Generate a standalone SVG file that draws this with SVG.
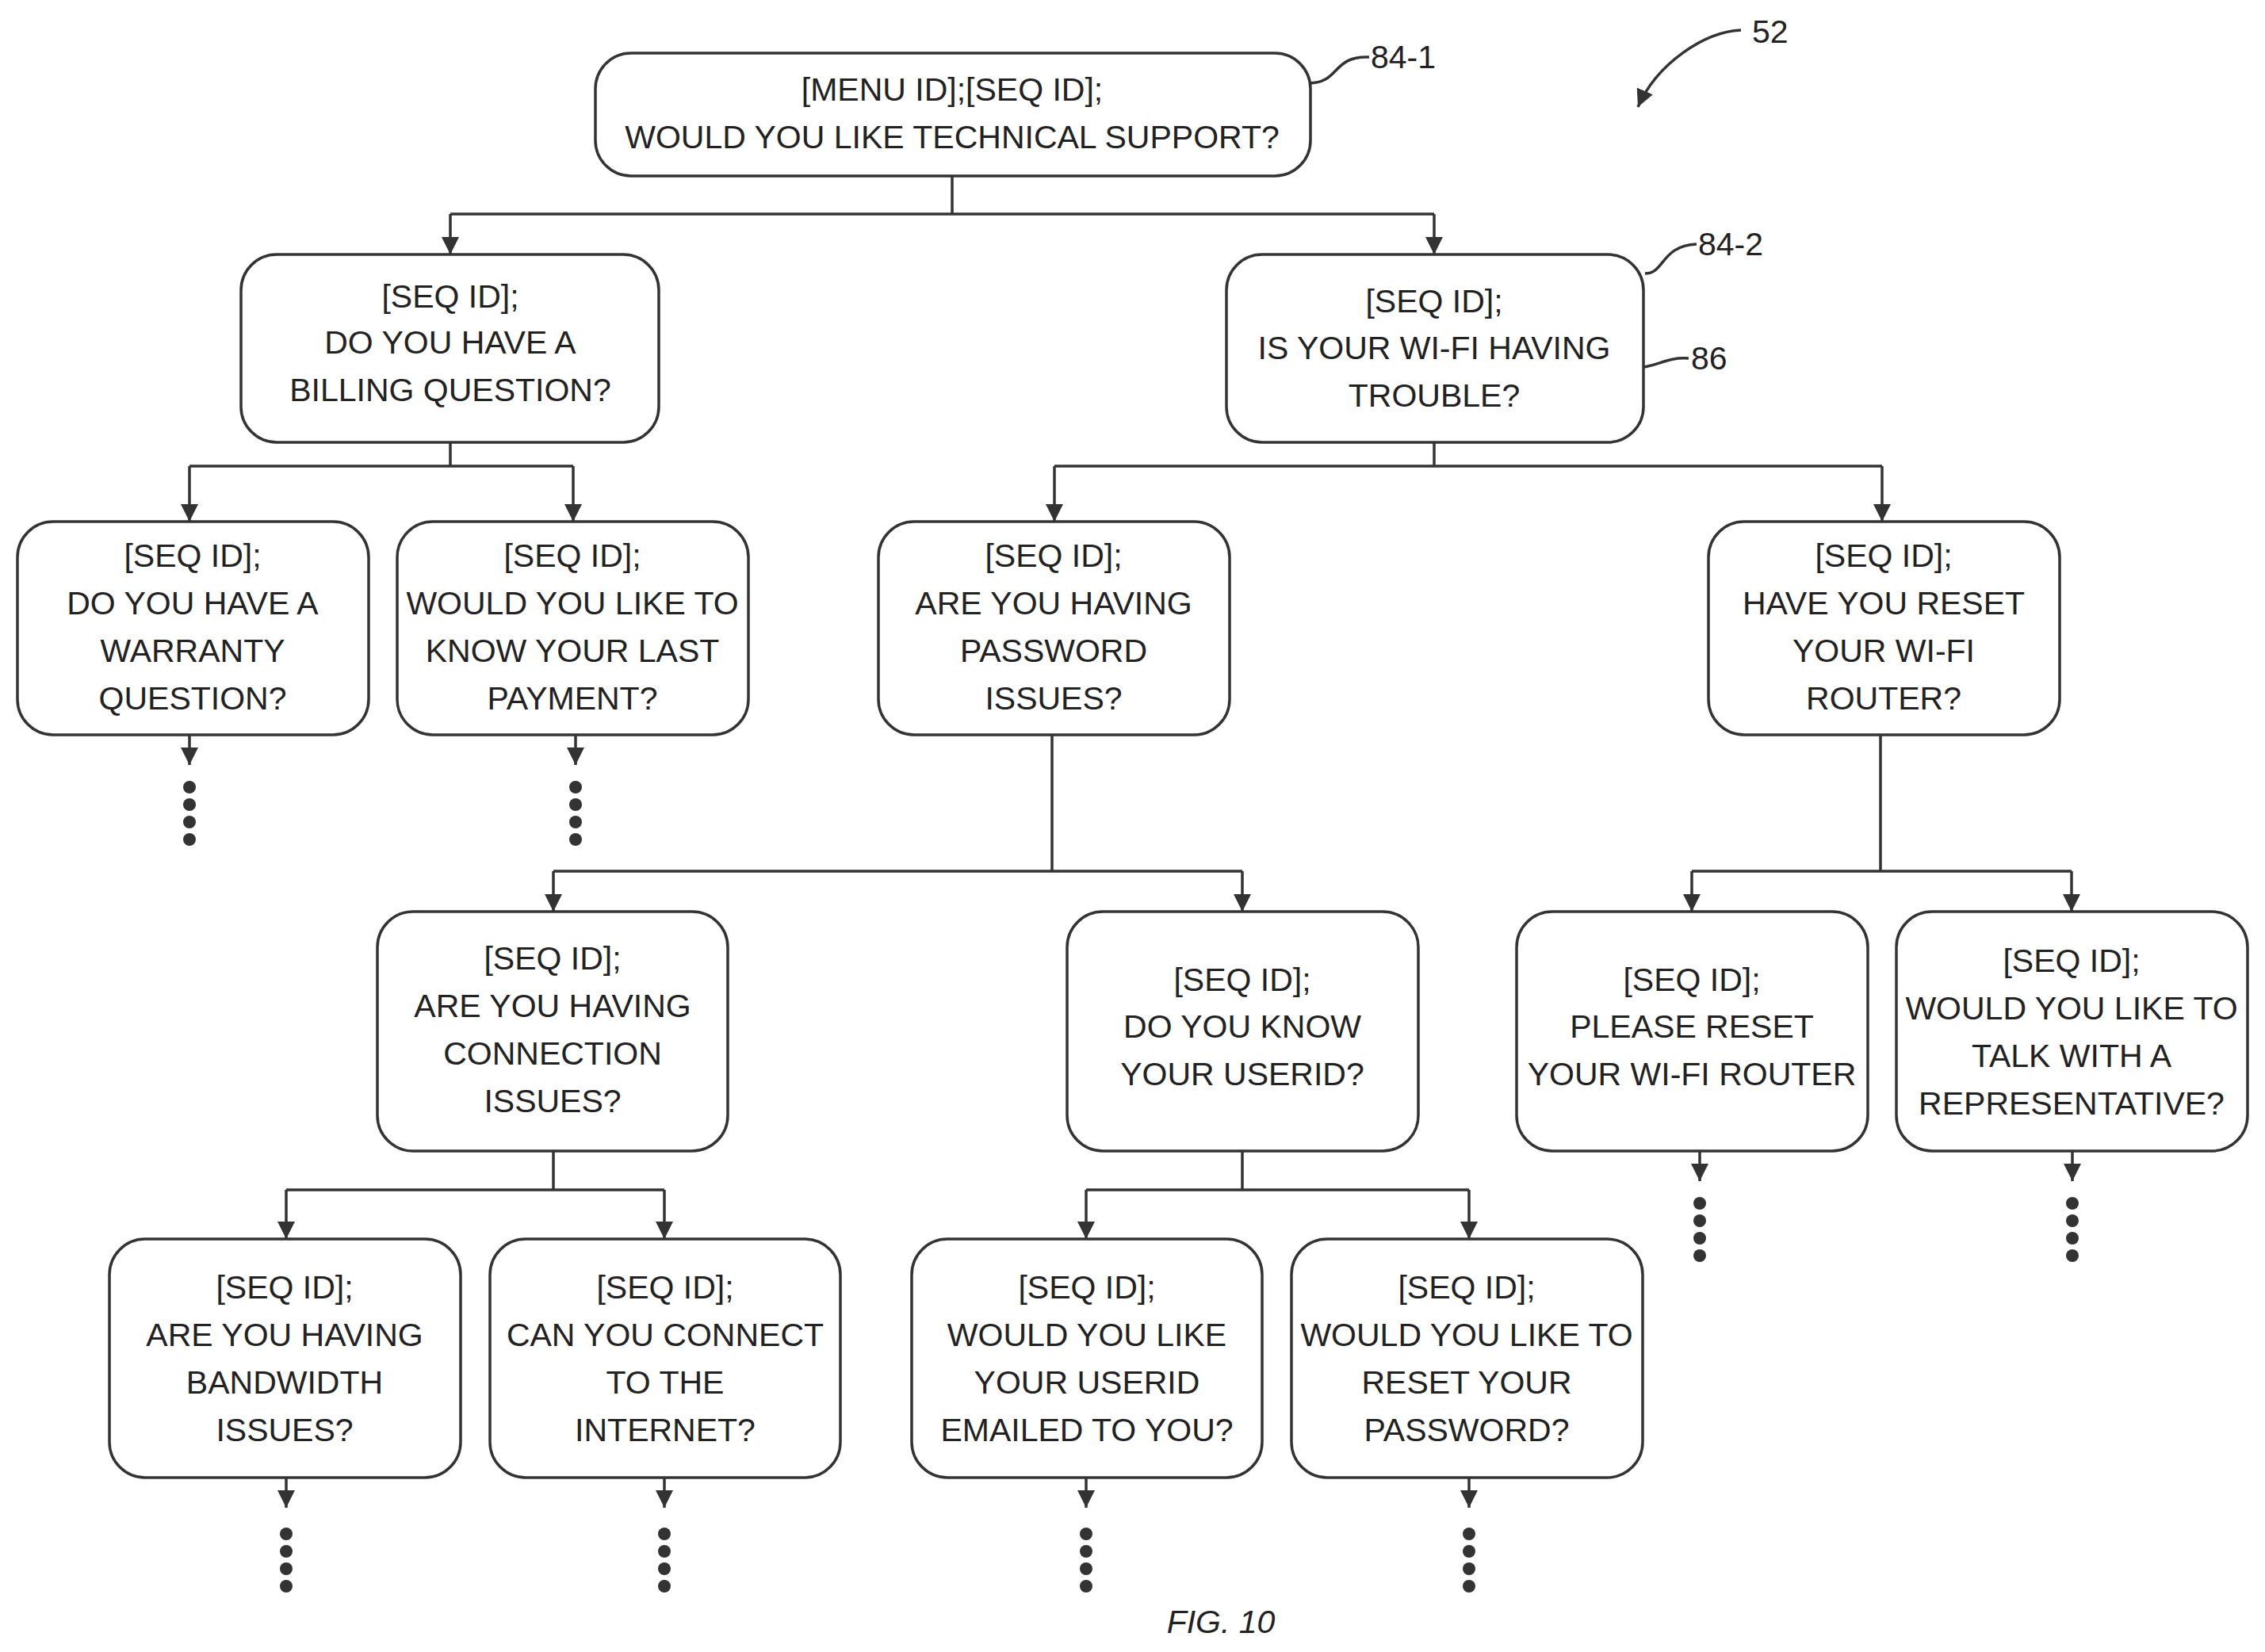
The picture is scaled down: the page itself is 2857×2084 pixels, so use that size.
<svg xmlns="http://www.w3.org/2000/svg" width="2857" height="2084" viewBox="0 0 2857 2084">
<style>
.n rect{fill:#fff;stroke:#333;stroke-width:3.5}
text{font-family:"Liberation Sans",Arial,sans-serif;font-size:41px;fill:#222;text-anchor:middle}
.c path,.c line{fill:none;stroke:#333;stroke-width:3.5}
.d circle{fill:#333}
.lbl{text-anchor:start}
</style>
<defs>
<marker id="a" viewBox="0 0 10 10" refX="10" refY="5" markerWidth="6" markerHeight="6" orient="auto" markerUnits="userSpaceOnUse">
<path d="M0,0 L10,5 L0,10 z" fill="#333"/>
</marker>
<marker id="ar" viewBox="0 0 10 10" refX="10" refY="5" markerWidth="22" markerHeight="22" orient="auto" markerUnits="userSpaceOnUse">
<path d="M0,0 L10,5 L0,10 z" fill="#333"/>
</marker>
</defs>
<rect width="2857" height="2084" fill="#fff"/>
<g class="c">
<path d="M1201,222 V270 M568,270 H1809" />
<line x1="568" y1="270" x2="568" y2="321" marker-end="url(#ar)"/>
<line x1="1809" y1="270" x2="1809" y2="321" marker-end="url(#ar)"/>
<path d="M568,558 V588 M239,588 H723 M1809,558 V588 M1330,588 H2374"/>
<line x1="239" y1="588" x2="239" y2="658" marker-end="url(#ar)"/>
<line x1="723" y1="588" x2="723" y2="658" marker-end="url(#ar)"/>
<line x1="1330" y1="588" x2="1330" y2="658" marker-end="url(#ar)"/>
<line x1="2374" y1="588" x2="2374" y2="658" marker-end="url(#ar)"/>
<path d="M1327,927 V1099 M698,1099 H1567 M2372,927 V1099 M2134,1099 H2613"/>
<line x1="698" y1="1099" x2="698" y2="1150" marker-end="url(#ar)"/>
<line x1="1567" y1="1099" x2="1567" y2="1150" marker-end="url(#ar)"/>
<line x1="2134" y1="1099" x2="2134" y2="1150" marker-end="url(#ar)"/>
<line x1="2613" y1="1099" x2="2613" y2="1150" marker-end="url(#ar)"/>
<path d="M698,1452 V1501 M361,1501 H838 M1567,1452 V1501 M1370,1501 H1853"/>
<line x1="361" y1="1501" x2="361" y2="1563" marker-end="url(#ar)"/>
<line x1="838" y1="1501" x2="838" y2="1563" marker-end="url(#ar)"/>
<line x1="1370" y1="1501" x2="1370" y2="1563" marker-end="url(#ar)"/>
<line x1="1853" y1="1501" x2="1853" y2="1563" marker-end="url(#ar)"/>
<line x1="239" y1="927" x2="239" y2="965" marker-end="url(#ar)"/>
<line x1="726" y1="927" x2="726" y2="965" marker-end="url(#ar)"/>
<line x1="2144" y1="1452" x2="2144" y2="1490" marker-end="url(#ar)"/>
<line x1="2614" y1="1452" x2="2614" y2="1490" marker-end="url(#ar)"/>
<line x1="361" y1="1864" x2="361" y2="1902" marker-end="url(#ar)"/>
<line x1="838" y1="1864" x2="838" y2="1902" marker-end="url(#ar)"/>
<line x1="1370" y1="1864" x2="1370" y2="1902" marker-end="url(#ar)"/>
<line x1="1853" y1="1864" x2="1853" y2="1902" marker-end="url(#ar)"/>
<path d="M1651,105 C1690,105 1680,70 1727,72"/>
<path d="M2075,345 C2100,345 2095,310 2140,308"/>
<path d="M2026,404 Q2045,404 2045,420 V448 Q2045,462 2060,464 Q2045,466 2045,480 V510 Q2045,525 2026,525"/>
<path d="M2062,464 C2090,464 2100,450 2130,452"/>
<path d="M2196,38 C2150,40 2090,80 2066,135" marker-end="url(#ar)"/>
</g>
<g class="d">
<circle cx="239" cy="993" r="8"/><circle cx="239" cy="1015" r="8"/><circle cx="239" cy="1037" r="8"/><circle cx="239" cy="1059" r="8"/>
<circle cx="726" cy="993" r="8"/><circle cx="726" cy="1015" r="8"/><circle cx="726" cy="1037" r="8"/><circle cx="726" cy="1059" r="8"/>
<circle cx="2144" cy="1518" r="8"/><circle cx="2144" cy="1540" r="8"/><circle cx="2144" cy="1562" r="8"/><circle cx="2144" cy="1584" r="8"/>
<circle cx="2614" cy="1518" r="8"/><circle cx="2614" cy="1540" r="8"/><circle cx="2614" cy="1562" r="8"/><circle cx="2614" cy="1584" r="8"/>
<circle cx="361" cy="1935" r="8"/><circle cx="361" cy="1957" r="8"/><circle cx="361" cy="1979" r="8"/><circle cx="361" cy="2001" r="8"/>
<circle cx="838" cy="1935" r="8"/><circle cx="838" cy="1957" r="8"/><circle cx="838" cy="1979" r="8"/><circle cx="838" cy="2001" r="8"/>
<circle cx="1370" cy="1935" r="8"/><circle cx="1370" cy="1957" r="8"/><circle cx="1370" cy="1979" r="8"/><circle cx="1370" cy="2001" r="8"/>
<circle cx="1853" cy="1935" r="8"/><circle cx="1853" cy="1957" r="8"/><circle cx="1853" cy="1979" r="8"/><circle cx="1853" cy="2001" r="8"/>
</g>
<g class="n" id="n841"><rect x="751" y="67" width="902" height="155" rx="45"/><text x="1201" y="127">[MENU ID];[SEQ ID];</text><text x="1201" y="187">WOULD YOU LIKE TECHNICAL SUPPORT?</text></g>
<g class="n" id="billing"><rect x="304" y="321" width="527" height="237" rx="45"/><text x="568" y="388">[SEQ ID];</text><text x="568" y="446">DO YOU HAVE A</text><text x="568" y="506">BILLING QUESTION?</text></g>
<g class="n" id="n842"><rect x="1547" y="321" width="526" height="237" rx="45"/><text x="1809" y="394">[SEQ ID];</text><text x="1809" y="453">IS YOUR WI-FI HAVING</text><text x="1809" y="513">TROUBLE?</text></g>
<g class="n" id="warranty"><rect x="22" y="658" width="443" height="269" rx="45"/><text x="243" y="715">[SEQ ID];</text><text x="243" y="775">DO YOU HAVE A</text><text x="243" y="835">WARRANTY</text><text x="243" y="895">QUESTION?</text></g>
<g class="n" id="payment"><rect x="501" y="658" width="443" height="269" rx="45"/><text x="722" y="715">[SEQ ID];</text><text x="722" y="775">WOULD YOU LIKE TO</text><text x="722" y="835">KNOW YOUR LAST</text><text x="722" y="895">PAYMENT?</text></g>
<g class="n" id="password"><rect x="1108" y="658" width="443" height="269" rx="45"/><text x="1329" y="715">[SEQ ID];</text><text x="1329" y="775">ARE YOU HAVING</text><text x="1329" y="835">PASSWORD</text><text x="1329" y="895">ISSUES?</text></g>
<g class="n" id="router"><rect x="2155" y="658" width="443" height="269" rx="45"/><text x="2376" y="715">[SEQ ID];</text><text x="2376" y="775">HAVE YOU RESET</text><text x="2376" y="835">YOUR WI-FI</text><text x="2376" y="895">ROUTER?</text></g>
<g class="n" id="connection"><rect x="476" y="1150" width="442" height="302" rx="45"/><text x="697" y="1223">[SEQ ID];</text><text x="697" y="1283">ARE YOU HAVING</text><text x="697" y="1343">CONNECTION</text><text x="697" y="1403">ISSUES?</text></g>
<g class="n" id="userid"><rect x="1346" y="1150" width="443" height="302" rx="45"/><text x="1567" y="1250">[SEQ ID];</text><text x="1567" y="1309">DO YOU KNOW</text><text x="1567" y="1369">YOUR USERID?</text></g>
<g class="n" id="pleasereset"><rect x="1913" y="1150" width="443" height="302" rx="45"/><text x="2134" y="1250">[SEQ ID];</text><text x="2134" y="1309">PLEASE RESET</text><text x="2134" y="1369">YOUR WI-FI ROUTER</text></g>
<g class="n" id="rep"><rect x="2392" y="1150" width="443" height="302" rx="45"/><text x="2613" y="1226">[SEQ ID];</text><text x="2613" y="1286">WOULD YOU LIKE TO</text><text x="2613" y="1346">TALK WITH A</text><text x="2613" y="1406">REPRESENTATIVE?</text></g>
<g class="n" id="bandwidth"><rect x="138" y="1563" width="443" height="301" rx="45"/><text x="359" y="1638">[SEQ ID];</text><text x="359" y="1698">ARE YOU HAVING</text><text x="359" y="1758">BANDWIDTH</text><text x="359" y="1818">ISSUES?</text></g>
<g class="n" id="internet"><rect x="618" y="1563" width="442" height="301" rx="45"/><text x="839" y="1638">[SEQ ID];</text><text x="839" y="1698">CAN YOU CONNECT</text><text x="839" y="1758">TO THE</text><text x="839" y="1818">INTERNET?</text></g>
<g class="n" id="emailed"><rect x="1150" y="1563" width="442" height="301" rx="45"/><text x="1371" y="1638">[SEQ ID];</text><text x="1371" y="1698">WOULD YOU LIKE</text><text x="1371" y="1758">YOUR USERID</text><text x="1371" y="1818">EMAILED TO YOU?</text></g>
<g class="n" id="resetpw"><rect x="1629" y="1563" width="443" height="301" rx="45"/><text x="1850" y="1638">[SEQ ID];</text><text x="1850" y="1698">WOULD YOU LIKE TO</text><text x="1850" y="1758">RESET YOUR</text><text x="1850" y="1818">PASSWORD?</text></g>
<text class="lbl" x="1729" y="86">84-1</text>
<text class="lbl" x="2142" y="322">84-2</text>
<text class="lbl" x="2133" y="466">86</text>
<text class="lbl" x="2210" y="54">52</text>
<text x="1540" y="2060" font-size="80" font-style="italic">FIG. 10</text>
</svg>
